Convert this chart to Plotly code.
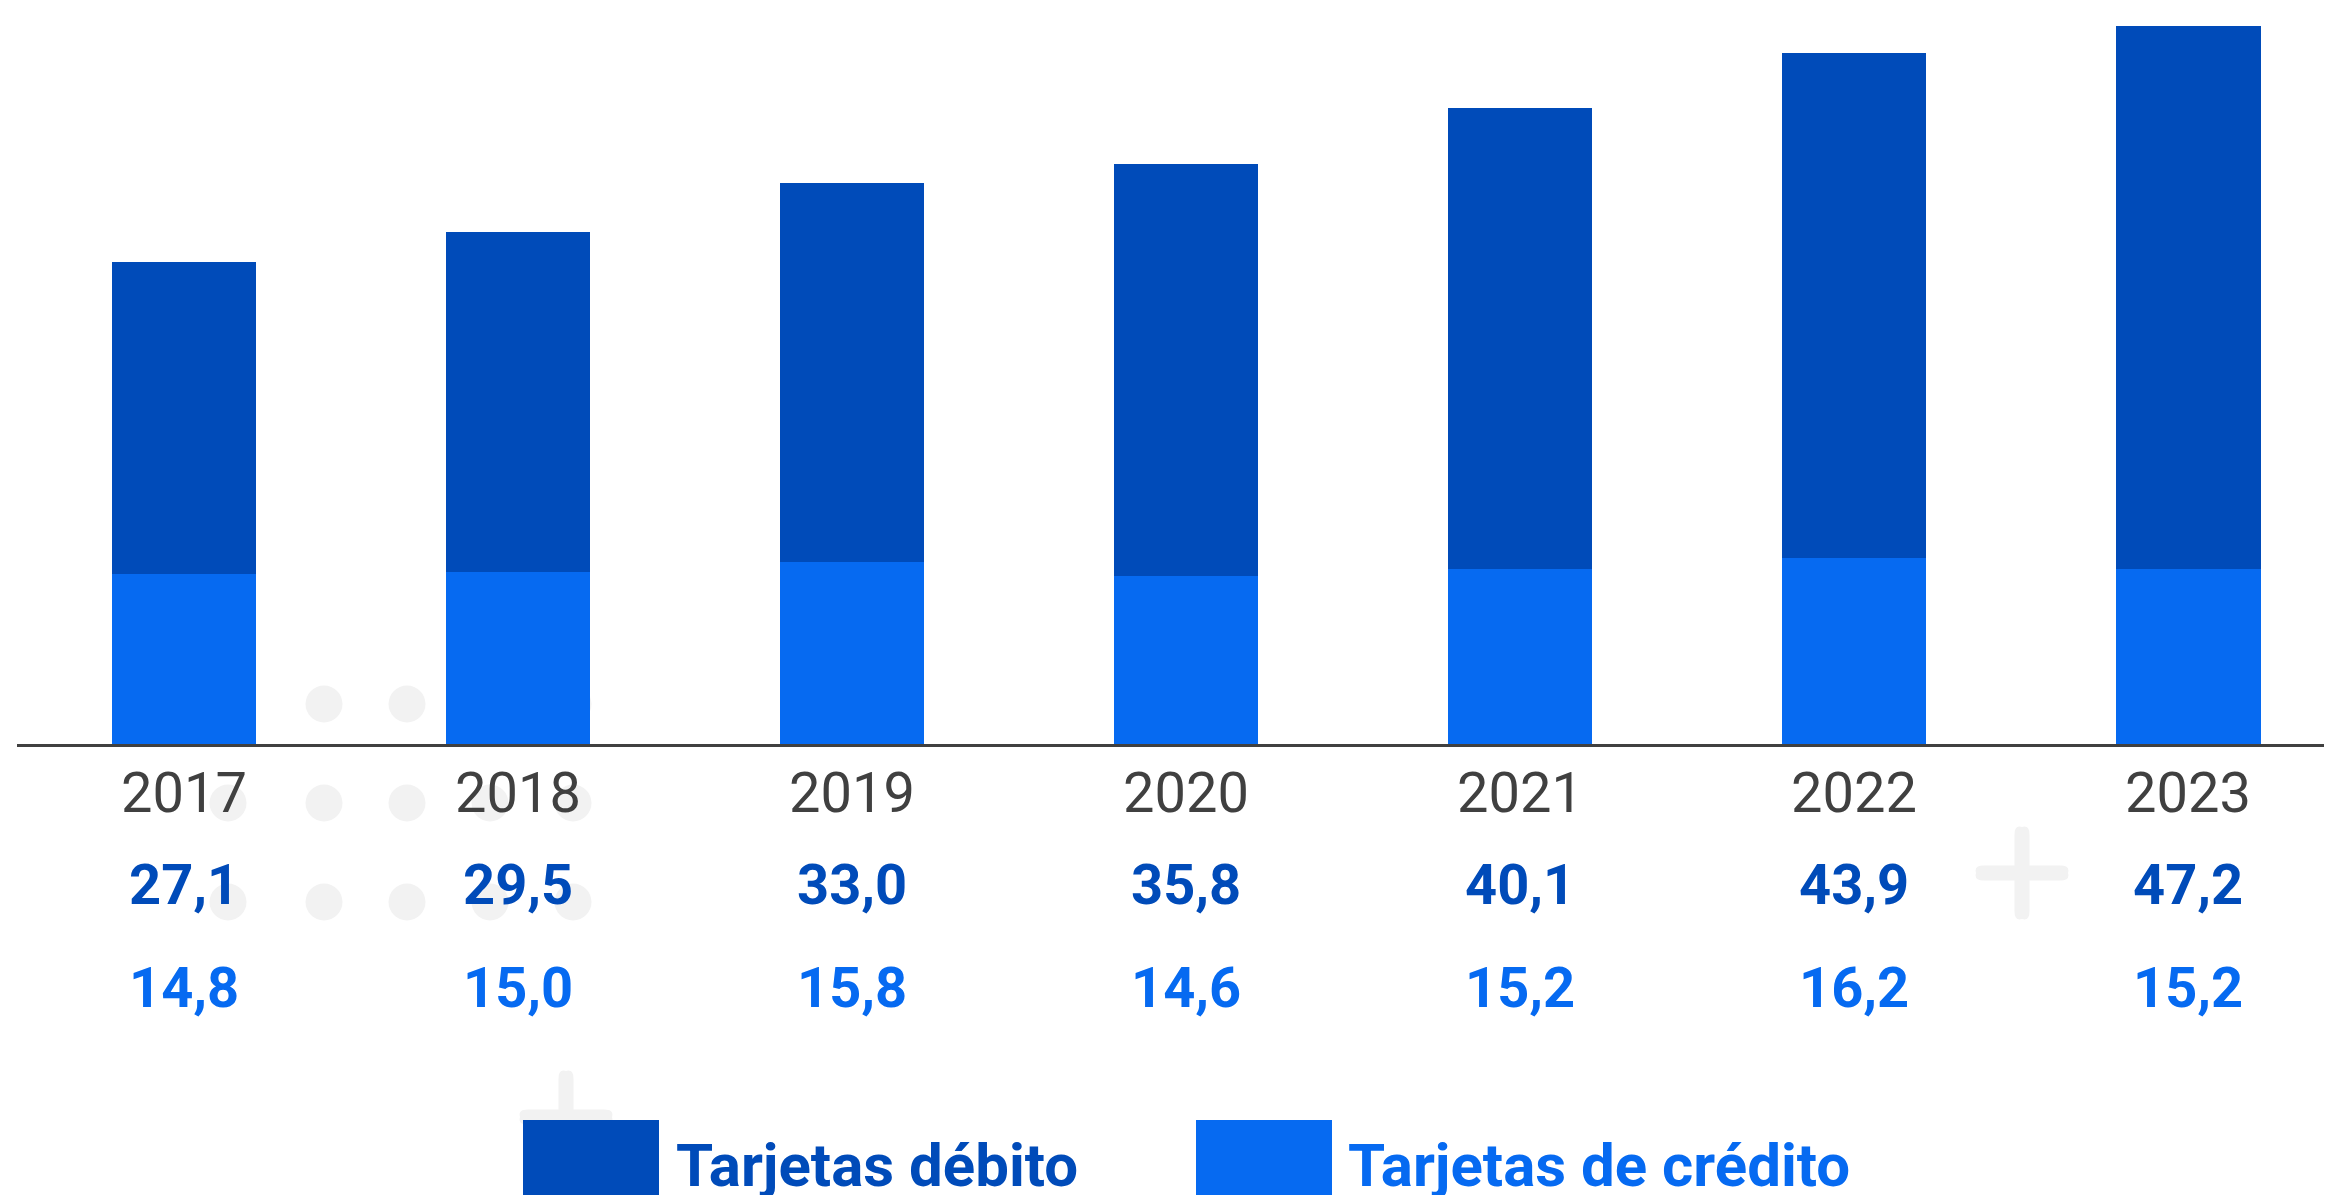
import plotly.graph_objects as go

years = ["2017", "2018", "2019", "2020", "2021", "2022", "2023"]
debito = [27.1, 29.5, 33.0, 35.8, 40.1, 43.9, 47.2]
credito = [14.8, 15.0, 15.8, 14.6, 15.2, 16.2, 15.2]
series_names = ["Tarjetas débito", "Tarjetas de crédito"]

DARK = "#004BB9"
LIGHT = "#066AF1"
GREY_TXT = "#404040"
DECO = "#F2F2F2"

W_FIG, H_FIG = 2332, 1195
OFF = 8                  # body margin of the html page
L, B = 17, 744           # plot area left / bottom, page pixels
PW = 2315
PH = B - OFF

def px(x):
    return (x - L) / PW

def py(y):
    return (B - y) / PH

def fmt(v):
    return f"{v:.1f}".replace(".", ",")

fig = go.Figure()
fig.add_trace(go.Bar(x=years, y=credito, name=series_names[1], marker_color=LIGHT,
                     marker_line_width=0, width=0.432))
fig.add_trace(go.Bar(x=years, y=debito, name=series_names[0], marker_color=DARK,
                     marker_line_width=0, width=0.432))

shapes = []
# background dots
for yy in [704, 803, 902]:
    for xx in [228, 324, 407, 490, 573]:
        r = 18.5
        shapes.append(dict(type="circle", xref="paper", yref="paper",
                           x0=px(xx - r), x1=px(xx + r), y0=py(yy + r), y1=py(yy - r),
                           fillcolor=DECO, line_width=0, layer="below"))

def pill(x0, y0, x1, y1):
    # rounded bar for the plus signs, pixel coords -> paper path
    if x1 - x0 > y1 - y0:
        r = (y1 - y0) / 2
        p = (f"M{px(x0 + r)},{py(y0)} L{px(x1 - r)},{py(y0)} "
             f"Q{px(x1 + r * 0.3)},{py(y0)} {px(x1)},{py(y0 + r)} "
             f"Q{px(x1 + r * 0.3)},{py(y1)} {px(x1 - r)},{py(y1)} "
             f"L{px(x0 + r)},{py(y1)} "
             f"Q{px(x0 - r * 0.3)},{py(y1)} {px(x0)},{py(y0 + r)} "
             f"Q{px(x0 - r * 0.3)},{py(y0)} {px(x0 + r)},{py(y0)} Z")
    else:
        r = (x1 - x0) / 2
        p = (f"M{px(x0)},{py(y0 + r)} L{px(x0)},{py(y1 - r)} "
             f"Q{px(x0)},{py(y1 + r * 0.3)} {px(x0 + r)},{py(y1)} "
             f"Q{px(x1)},{py(y1 + r * 0.3)} {px(x1)},{py(y1 - r)} "
             f"L{px(x1)},{py(y0 + r)} "
             f"Q{px(x1)},{py(y0 - r * 0.3)} {px(x0 + r)},{py(y0)} "
             f"Q{px(x0)},{py(y0 - r * 0.3)} {px(x0)},{py(y0 + r)} Z")
    return dict(type="path", xref="paper", yref="paper", path=p,
                fillcolor=DECO, line_width=0, layer="below")

for cx, cy in [(2022, 873), (566, 1117)]:
    h, t = 46, 7.5
    shapes.append(pill(cx - h, cy - t, cx + h, cy + t))
    shapes.append(pill(cx - t, cy - h, cx + t, cy + h))

# legend swatches
for x0, col in [(523, DARK), (1196, LIGHT)]:
    shapes.append(dict(type="rect", xref="paper", yref="paper",
                       x0=px(x0), x1=px(x0 + 136), y0=py(1120), y1=py(1215),
                       fillcolor=col, line_width=0, layer="above"))

annotations = []
for i, yr in enumerate(years):
    annotations.append(dict(x=i, xref="x", y=py(793), yref="paper", text=yr,
                            showarrow=False, yanchor="middle",
                            font=dict(family="Roboto", size=56, color=GREY_TXT)))
    annotations.append(dict(x=i, xref="x", y=py(885), yref="paper", text=f"<b>{fmt(debito[i])}</b>",
                            showarrow=False, yanchor="middle",
                            font=dict(family="Roboto", size=56, color=DARK)))
    annotations.append(dict(x=i, xref="x", y=py(988), yref="paper", text=f"<b>{fmt(credito[i])}</b>",
                            showarrow=False, yanchor="middle",
                            font=dict(family="Roboto", size=56, color=LIGHT)))

for x0, name, col in [(674, series_names[0], DARK), (1346, series_names[1], LIGHT)]:
    annotations.append(dict(x=px(x0), xref="paper", y=py(1165), yref="paper",
                            text=f"<b>{name}</b>", showarrow=False,
                            xanchor="left", yanchor="middle",
                            font=dict(family="Roboto", size=60, color=col)))

fig.update_layout(
    barmode="stack",
    width=W_FIG, height=H_FIG,
    margin=dict(l=L - OFF, r=W_FIG - (L - OFF) - PW, t=0, b=H_FIG - PH),
    paper_bgcolor="white", plot_bgcolor="rgba(0,0,0,0)",
    showlegend=False,
    shapes=shapes,
    annotations=annotations,
)
fig.update_xaxes(type="category", range=[-0.5, 6.43], showticklabels=False,
                 showline=True, linecolor=GREY_TXT, linewidth=3, ticks="",
                 showgrid=False, zeroline=False)
fig.update_yaxes(range=[0, PH / 11.5], visible=False, showgrid=False, zeroline=False)

fig.write_html("out.html")
